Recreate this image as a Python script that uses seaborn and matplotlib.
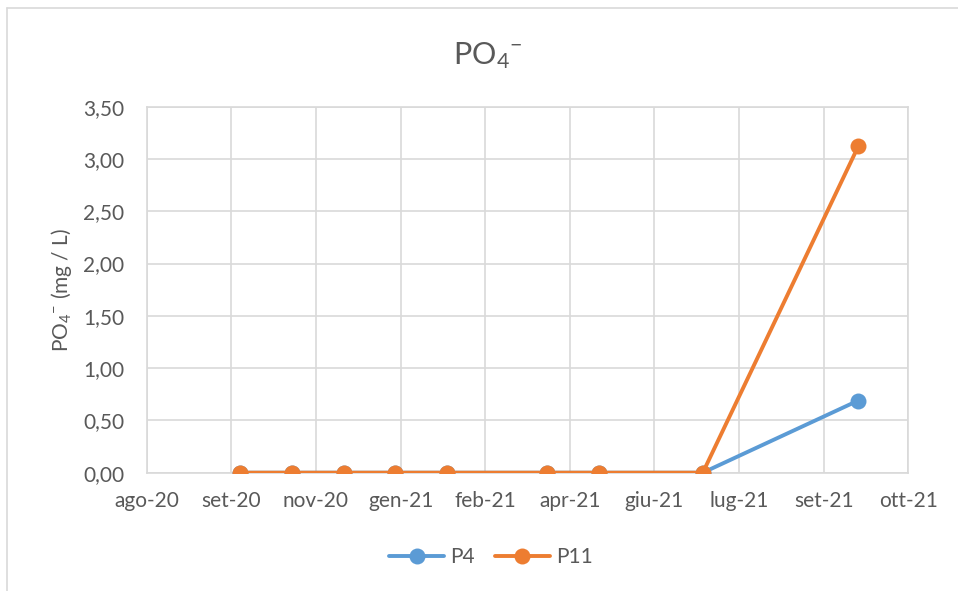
import datetime as dt

import matplotlib
matplotlib.use("Agg")
import matplotlib.dates as mdates
import matplotlib.pyplot as plt
from matplotlib.lines import Line2D
from matplotlib.ticker import FuncFormatter, MultipleLocator
import pandas as pd
import seaborn as sns

# Sampling dates and measured phosphate concentrations (mg/L)
sample_dates = ["2020-10-04", "2020-11-03", "2020-12-03", "2021-01-02", "2021-02-01",
                "2021-03-31", "2021-04-30", "2021-06-29", "2021-09-27"]
p4 = [0.0, 0.0, 0.0, 0.0, 0.0, 0.0, 0.0, 0.0, 0.69]
p11 = [0.0, 0.0, 0.0, 0.0, 0.0, 0.0, 0.0, 0.0, 3.12]
series_names = ["P4", "P11"]
series_colors = ["#5B9BD5", "#ED7D31"]

# Italian month abbreviations for the date axis
month_abbr = ["gen", "feb", "mar", "apr", "mag", "giu",
              "lug", "ago", "set", "ott", "nov", "dic"]

title_text = r"PO$_{\mathrm{4}}$$^{\mathrm{-}}$"
y_label = r"PO$_{\mathrm{4}}$$^{\mathrm{-}}$ (mg / L)"

# Date axis: start and major unit (days)
axis_start = dt.date(2020, 8, 11)
major_days = 49
n_major = 9

df = pd.DataFrame({
    "data": pd.to_datetime(sample_dates * 2),
    "valore": p4 + p11,
    "serie": [series_names[0]] * len(p4) + [series_names[1]] * len(p11),
})

sns.set_theme(style="white")
plt.rcParams["font.family"] = ["Lato", "DejaVu Sans"]
plt.rcParams["mathtext.fontset"] = "custom"
plt.rcParams["mathtext.rm"] = "Lato"
plt.rcParams["mathtext.it"] = "Lato:italic"
plt.rcParams["mathtext.bf"] = "Lato:bold"

TEXT = "#595959"
GRID = "#D9D9D9"
FS = 15

fig = plt.figure(figsize=(9.58, 5.91), dpi=100)
ax = fig.add_axes([146.7 / 958, 1 - 472.7 / 591, (908.3 - 146.7) / 958, (472.7 - 106.7) / 591])

sns.lineplot(data=df, x="data", y="valore", hue="serie", hue_order=series_names,
             palette=series_colors, marker="o", markersize=11.5, markeredgewidth=0,
             linewidth=2.8, ax=ax, legend=False, zorder=3)

x0 = mdates.date2num(axis_start)
ax.set_xlim(x0, x0 + major_days * n_major)
ax.xaxis.set_major_locator(MultipleLocator(major_days, offset=x0 % major_days))


def fmt_date(v, pos):
    d = mdates.num2date(v)
    return f"{month_abbr[d.month - 1]}-{d.year % 100:02d}"


ax.xaxis.set_major_formatter(FuncFormatter(fmt_date))
ax.set_ylim(0, 3.5)
ax.yaxis.set_major_locator(MultipleLocator(0.5))
ax.yaxis.set_major_formatter(FuncFormatter(lambda v, p: f"{v:.2f}".replace(".", ",")))

ax.grid(True, color=GRID, linewidth=1.2)
ax.set_axisbelow(True)
for s in ax.spines.values():
    s.set_color(GRID)
    s.set_linewidth(1.2)

ax.tick_params(axis="both", length=0, labelsize=FS, labelcolor=TEXT)
ax.tick_params(axis="y", pad=16)
ax.tick_params(axis="x", pad=13)
ax.set_xlabel("")
ax.set_ylabel(y_label, fontsize=FS, color=TEXT, labelpad=7)

fig.text(488 / 958, 1 - 56 / 591, title_text, ha="center", va="center",
         fontsize=22, color=TEXT)

handles = [Line2D([], [], color=c, linewidth=2.8, marker="o", markersize=11.5,
                  markeredgewidth=0) for c in series_colors]
fig.legend(handles, series_names, loc="center", bbox_to_anchor=(491 / 958, 1 - 557 / 591),
           ncol=2, frameon=False, fontsize=FS, labelcolor=TEXT,
           handlelength=2.6, handletextpad=0.3, columnspacing=1.0)

# Chart area border
fig.add_artist(Line2D([7 / 958, 1.0], [1 - 8 / 591, 1 - 8 / 591], transform=fig.transFigure,
                      color=GRID, linewidth=1.2))
fig.add_artist(Line2D([7 / 958, 7 / 958], [0.0, 1 - 8 / 591], transform=fig.transFigure,
                      color=GRID, linewidth=1.2))

fig.savefig("out.png", dpi=100, facecolor="white")
